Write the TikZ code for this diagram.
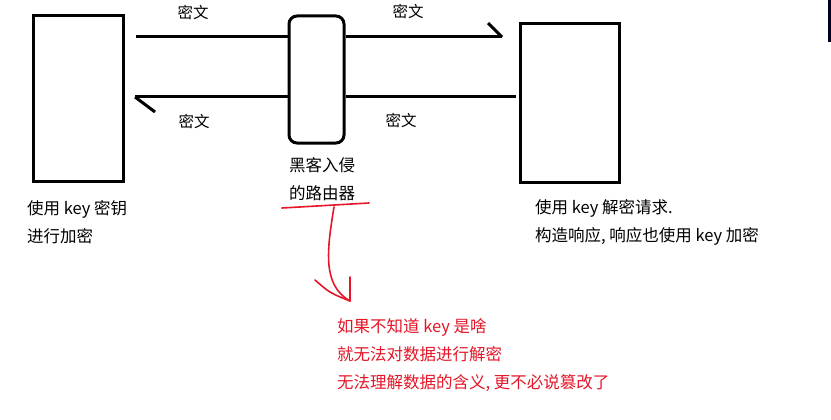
\documentclass[tikz,border=0pt]{standalone}
\usepackage{fontspec}
\setmainfont{Noto Sans CJK SC}
\definecolor{penred}{RGB}{228,22,40}
\begin{document}
\begin{tikzpicture}[x=1pt,y=-1pt,
  box/.style={draw=black,line width=3pt,inner sep=0pt},
  wire/.style={draw=black,line width=3pt},
  lbl/.style={font=\fontsize{15.5}{18}\selectfont,inner sep=0pt},
  note/.style={font=\fontsize{16.5}{28}\selectfont,inner sep=0pt,align=left,anchor=base west},
  redpen/.style={draw=penred,line width=1.6pt,line cap=round,line join=round}]
\useasboundingbox[fill=white] (0,0) rectangle (831,420);
\fill[black!80!blue!60!black] (828,0) rectangle (831,42);
% boxes
\node[box,minimum width=90pt,minimum height=165pt] (client) at (78,98.5) {};
\node[box,minimum width=99pt,minimum height=158pt] (server) at (569.5,103) {};
\node[box,rounded corners=8pt,minimum width=55pt,minimum height=127pt] (router) at (316.5,79.5) {};
% connectors
\coordinate (t0) at (136,37);
\coordinate (t1) at (502,37);
\coordinate (b0) at (135,97);
\coordinate (b1) at (516,97);
\draw[wire] (t0) -- (t0 -| router.west);
\draw[wire] (t0 -| router.east) -- (t1);
\draw[wire] (t1) -- ++(-14,-14);
\draw[wire] (b1) -- (b1 -| router.east);
\draw[wire] (b0 -| router.west) -- (b0);
\draw[wire] (b0) -- ++(20,15);
% labels
\node[lbl] (l1) at (193,13) {密文};
\node[lbl] (l2) at (194,122) {密文};
\node[lbl] (l3) at (408,12) {密文};
\node[lbl] (l4) at (401,121) {密文};
\node[note] (rt) at (289,199) {黑客入侵\\的路由器};
\node[note] (ct) at (27,242) {使用 key 密钥\\进行加密};
\node[note] (st) at (535,241) {使用 key 解密请求.\\构造响应, 响应也使用 key 加密};
\node[note,text=penred] (nt) at (337,388) {如果不知道 key 是啥\\就无法对数据进行解密\\无法理解数据的含义, 更不必说篡改了};
% red pen
\coordinate (u0) at (282,208);
\coordinate (u1) at (369,203);
\coordinate (a0) at (334,207);
\coordinate (a1) at (350,301);
\draw[redpen] (u0) -- (u1);
\draw[redpen] (a0) .. controls (327,250) and (322,285) .. (a1);
\draw[redpen] (315,280) .. controls (330,293) .. (a1);
\draw[redpen] (350,277) .. controls (350,290) .. (a1);
\end{tikzpicture}
\end{document}
